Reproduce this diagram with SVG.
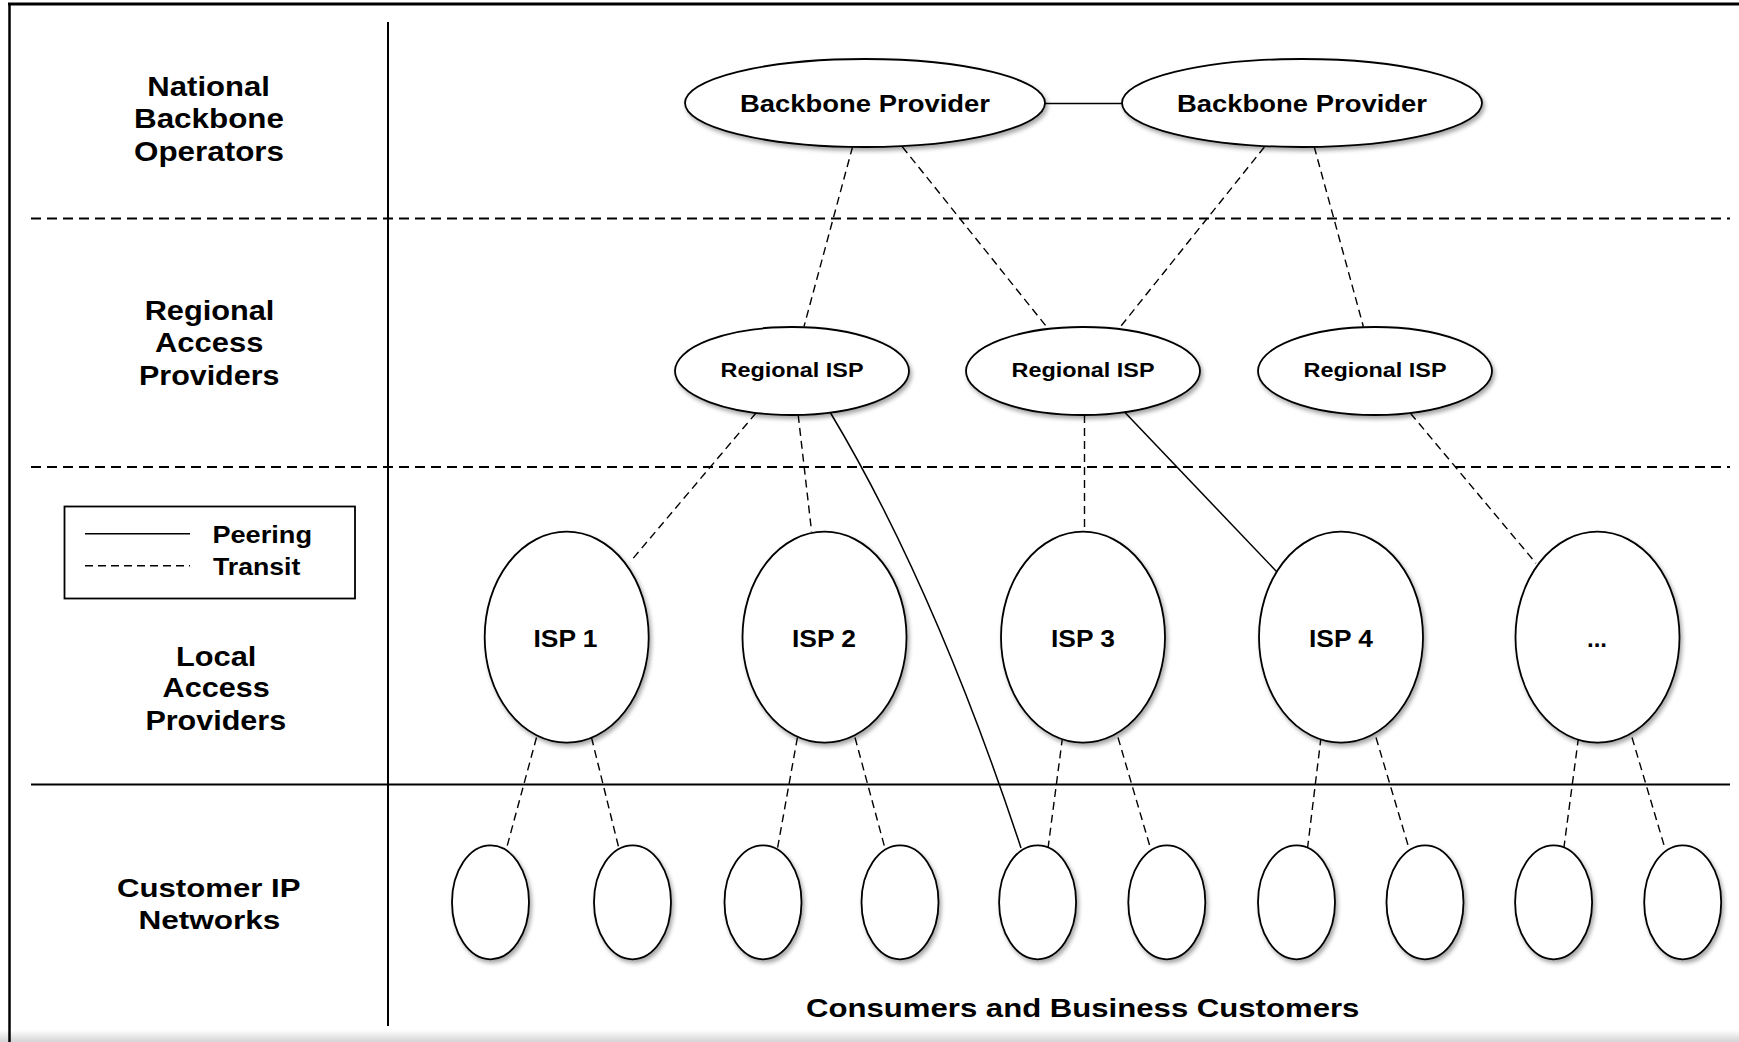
<svg xmlns="http://www.w3.org/2000/svg" width="1739" height="1042" viewBox="0 0 1739 1042">
<defs>
<filter id="sh" x="-20%" y="-20%" width="140%" height="150%">
<feDropShadow dx="2" dy="3" stdDeviation="2" flood-color="#000" flood-opacity="0.35"/>
</filter>
<linearGradient id="bg" x1="0" y1="0" x2="0" y2="1">
<stop offset="0" stop-color="#ffffff"/>
<stop offset="1" stop-color="#d4d4d4"/>
</linearGradient>
</defs>
<style>
text{font-family:"Liberation Sans",Arial,sans-serif;font-weight:bold;fill:#000;text-anchor:middle}
.lbl{font-size:27px}
.node{fill:#fff;stroke:#000;stroke-width:1.8;filter:url(#sh)}
.peer{fill:none;stroke:#000;stroke-width:1.5}
.tran{fill:none;stroke:#000;stroke-width:1.4;stroke-dasharray:8 5}
.sec{fill:none;stroke:#000;stroke-width:2;stroke-dasharray:10 6}
</style>
<rect x="0" y="0" width="1739" height="1042" fill="#fff"/>
<rect x="0" y="1030" width="1739" height="12" fill="url(#bg)"/>
<g id="frame">
<line x1="8" y1="4" x2="1739" y2="4" stroke="#000" stroke-width="3"/>
<line x1="9.5" y1="4" x2="9.5" y2="1042" stroke="#000" stroke-width="2.5"/>
<line x1="388" y1="22" x2="388" y2="1026" stroke="#000" stroke-width="2"/>
<line x1="31" y1="218.5" x2="1730" y2="218.5" class="sec"/>
<line x1="31" y1="467" x2="1730" y2="467" class="sec"/>
<line x1="31" y1="784.5" x2="1730" y2="784.5" stroke="#000" stroke-width="2"/>
</g>
<g id="tier-labels">
<text class="lbl" x="208.6" y="96" textLength="122.5" lengthAdjust="spacingAndGlyphs">National</text>
<text class="lbl" x="209" y="128.3" textLength="150" lengthAdjust="spacingAndGlyphs">Backbone</text>
<text class="lbl" x="209" y="160.7" textLength="150" lengthAdjust="spacingAndGlyphs">Operators</text>
<text class="lbl" x="209.5" y="320" textLength="129.7" lengthAdjust="spacingAndGlyphs">Regional</text>
<text class="lbl" x="209.2" y="352.3" textLength="108.3" lengthAdjust="spacingAndGlyphs">Access</text>
<text class="lbl" x="209.2" y="385" textLength="140.4" lengthAdjust="spacingAndGlyphs">Providers</text>
<text class="lbl" x="216.2" y="666" textLength="80.4" lengthAdjust="spacingAndGlyphs">Local</text>
<text class="lbl" x="216.2" y="697.3" textLength="107.2" lengthAdjust="spacingAndGlyphs">Access</text>
<text class="lbl" x="215.8" y="730" textLength="140.8" lengthAdjust="spacingAndGlyphs">Providers</text>
<text style="font-size:25.5px" x="208.7" y="896.7" textLength="183.5" lengthAdjust="spacingAndGlyphs">Customer IP</text>
<text style="font-size:25.5px" x="209.4" y="929.3" textLength="142" lengthAdjust="spacingAndGlyphs">Networks</text>
<text style="font-size:25.5px" x="1082.7" y="1016.7" textLength="553.4" lengthAdjust="spacingAndGlyphs">Consumers and Business Customers</text>
</g>
<g id="legend">
<rect x="64.5" y="506.5" width="290.5" height="92" fill="none" stroke="#000" stroke-width="1.8"/>
<line x1="85" y1="533.7" x2="190" y2="533.7" class="peer"/>
<line x1="85" y1="565.7" x2="190" y2="565.7" class="tran" style="stroke-width:1.6"/>
<text style="font-size:24px" x="262.2" y="542.7" textLength="99.6" lengthAdjust="spacingAndGlyphs">Peering</text>
<text style="font-size:24px" x="256.7" y="575" textLength="87.4" lengthAdjust="spacingAndGlyphs">Transit</text>
</g>
<g id="connectors">
<line x1="1044" y1="103.5" x2="1122" y2="103.5" class="peer"/>
<line x1="852.6" y1="146.7" x2="804" y2="326.5" class="tran"/>
<line x1="902.3" y1="146.7" x2="1047.8" y2="328.3" class="tran"/>
<line x1="1264.4" y1="147" x2="1119" y2="328.5" class="tran"/>
<line x1="1314.2" y1="146.7" x2="1363.4" y2="326.7" class="tran"/>
<line x1="756" y1="413" x2="630" y2="562" class="tran"/>
<line x1="798.2" y1="415" x2="811.6" y2="531.7" class="tran"/>
<path d="M830,412 Q934.7,586.5 1021,848" class="peer"/>
<line x1="1084.5" y1="415" x2="1084.5" y2="531.7" class="tran"/>
<line x1="1125" y1="412.5" x2="1276.5" y2="571.5" class="peer"/>
<line x1="1410.5" y1="413.3" x2="1536" y2="563.3" class="tran"/>
<line x1="536.5" y1="737.5" x2="506.5" y2="848.4" class="tran"/>
<line x1="591.5" y1="737.5" x2="618.9" y2="848.4" class="tran"/>
<line x1="797.4" y1="737.5" x2="777.5" y2="848.4" class="tran"/>
<line x1="855" y1="737.5" x2="885" y2="848.4" class="tran"/>
<line x1="1062.5" y1="737.5" x2="1048" y2="848.4" class="tran"/>
<line x1="1118" y1="737.5" x2="1150.5" y2="848.4" class="tran"/>
<line x1="1321" y1="737.5" x2="1307.5" y2="848.4" class="tran"/>
<line x1="1376" y1="737.5" x2="1409" y2="848.4" class="tran"/>
<line x1="1578.5" y1="737.5" x2="1563.8" y2="848.4" class="tran"/>
<line x1="1632" y1="737.5" x2="1665" y2="848.4" class="tran"/>
</g>
<g id="bb1"><ellipse class="node" cx="865" cy="103" rx="180" ry="44"/><text style="font-size:24px" x="865" y="111.7" textLength="250" lengthAdjust="spacingAndGlyphs">Backbone Provider</text></g>
<g id="bb2"><ellipse class="node" cx="1302" cy="103" rx="180" ry="44"/><text style="font-size:24px" x="1302" y="111.7" textLength="250" lengthAdjust="spacingAndGlyphs">Backbone Provider</text></g>
<g id="reg1"><ellipse class="node" cx="792" cy="371" rx="117" ry="44"/><text style="font-size:20px" x="792" y="377" textLength="143" lengthAdjust="spacingAndGlyphs">Regional ISP</text></g>
<g id="reg2"><ellipse class="node" cx="1083" cy="371" rx="117" ry="44"/><text style="font-size:20px" x="1083" y="377" textLength="143" lengthAdjust="spacingAndGlyphs">Regional ISP</text></g>
<g id="reg3"><ellipse class="node" cx="1375" cy="371" rx="117" ry="44"/><text style="font-size:20px" x="1375" y="377" textLength="143" lengthAdjust="spacingAndGlyphs">Regional ISP</text></g>
<g id="isp1"><ellipse class="node" cx="566.7" cy="637.2" rx="82" ry="105.5"/><text style="font-size:24px" x="565.5" y="646.7" textLength="64" lengthAdjust="spacingAndGlyphs">ISP 1</text></g>
<g id="isp2"><ellipse class="node" cx="824.5" cy="637.2" rx="82" ry="105.5"/><text style="font-size:24px" x="824" y="646.7" textLength="64" lengthAdjust="spacingAndGlyphs">ISP 2</text></g>
<g id="isp3"><ellipse class="node" cx="1083" cy="637.2" rx="82" ry="105.5"/><text style="font-size:24px" x="1083" y="646.7" textLength="64" lengthAdjust="spacingAndGlyphs">ISP 3</text></g>
<g id="isp4"><ellipse class="node" cx="1341" cy="637.2" rx="82" ry="105.5"/><text style="font-size:24px" x="1341" y="646.7" textLength="64" lengthAdjust="spacingAndGlyphs">ISP 4</text></g>
<g id="isp5"><ellipse class="node" cx="1597.5" cy="637.2" rx="82" ry="105.5"/><text style="font-size:24px" x="1597" y="646.7">...</text></g>
<g id="cust1"><ellipse class="node" cx="490.5" cy="902.3" rx="38.5" ry="57"/></g>
<g id="cust2"><ellipse class="node" cx="632.5" cy="902.3" rx="38.5" ry="57"/></g>
<g id="cust3"><ellipse class="node" cx="763" cy="902.3" rx="38.5" ry="57"/></g>
<g id="cust4"><ellipse class="node" cx="900" cy="902.3" rx="38.5" ry="57"/></g>
<g id="cust5"><ellipse class="node" cx="1037.6" cy="902.3" rx="38.5" ry="57"/></g>
<g id="cust6"><ellipse class="node" cx="1166.8" cy="902.3" rx="38.5" ry="57"/></g>
<g id="cust7"><ellipse class="node" cx="1296.5" cy="902.3" rx="38.5" ry="57"/></g>
<g id="cust8"><ellipse class="node" cx="1425" cy="902.3" rx="38.5" ry="57"/></g>
<g id="cust9"><ellipse class="node" cx="1553.6" cy="902.3" rx="38.5" ry="57"/></g>
<g id="cust10"><ellipse class="node" cx="1682.7" cy="902.3" rx="38.5" ry="57"/></g>
</svg>
